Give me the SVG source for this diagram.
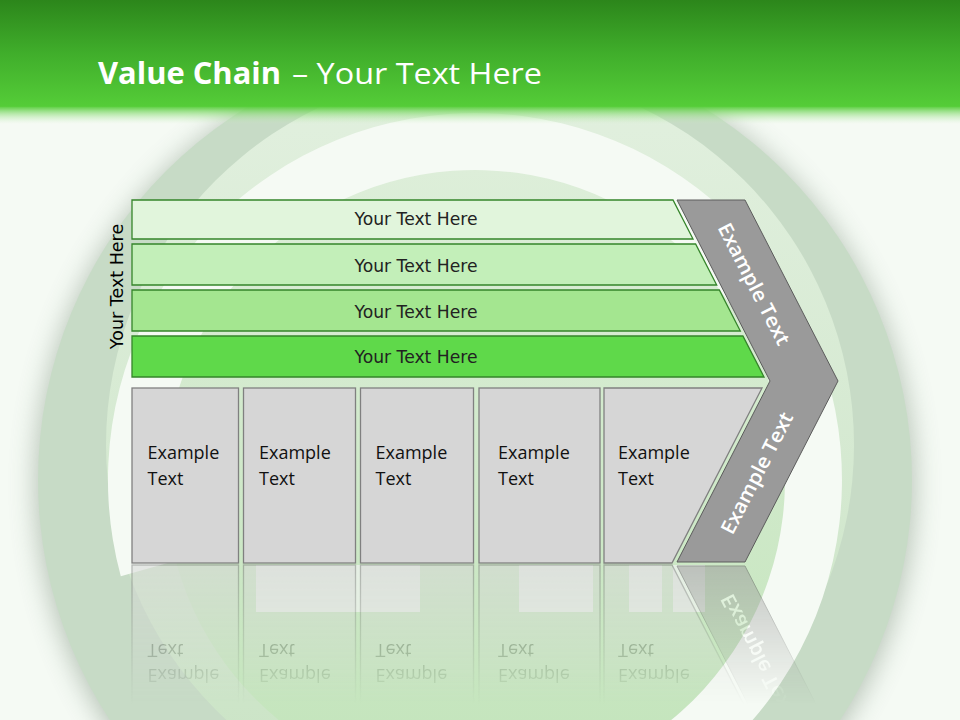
<svg xmlns="http://www.w3.org/2000/svg" xmlns:xlink="http://www.w3.org/1999/xlink" width="960" height="720" viewBox="0 0 960 720">
<defs>
  <linearGradient id="hdr" x1="0" y1="0" x2="0" y2="1">
    <stop offset="0" stop-color="#2c861b"/>
    <stop offset="0.5" stop-color="#40ae2b"/>
    <stop offset="1" stop-color="#55cd38"/>
  </linearGradient>
  <linearGradient id="hdrFade" x1="0" y1="0" x2="0" y2="1">
    <stop offset="0" stop-color="#55cd38" stop-opacity="1"/>
    <stop offset="1" stop-color="#c8eebd" stop-opacity="0"/>
  </linearGradient>
  <linearGradient id="holeG" x1="0" y1="0" x2="0" y2="1">
    <stop offset="0" stop-color="#e2f0df"/>
    <stop offset="1" stop-color="#c9e3c4"/>
  </linearGradient>
  <linearGradient id="innerG" x1="0" y1="0" x2="0" y2="1">
    <stop offset="0" stop-color="#ddeed9"/>
    <stop offset="1" stop-color="#c2e4ba"/>
  </linearGradient>
  <filter id="blur" x="-20%" y="-20%" width="140%" height="140%">
    <feGaussianBlur stdDeviation="13"/>
  </filter>
  <linearGradient id="fade" gradientUnits="userSpaceOnUse" x1="0" y1="564" x2="0" y2="705">
    <stop offset="0" stop-color="#ffffff" stop-opacity="0.55"/>
    <stop offset="1" stop-color="#ffffff" stop-opacity="0"/>
  </linearGradient>
  <mask id="reflMask" maskUnits="userSpaceOnUse" x="0" y="564" width="960" height="156">
    <rect x="0" y="564" width="960" height="156" fill="url(#fade)"/>
  </mask>
</defs>
<style>
  .bar{stroke:#35852a;stroke-width:1.3}
  .bartxt{font-family:"DejaVu Sans",Verdana,sans-serif;font-size:17.2px;fill:#222222;text-anchor:middle}
  .box{fill:#d6d6d6;stroke:#808080;stroke-width:1.3}
  .boxtxt{font-family:"Open Sans","Liberation Sans",sans-serif;font-size:18px;fill:#111111}
  .chev{fill:#9a9a9a;stroke:#5c5c5c;stroke-width:1}
  .chevtxt{font-family:"Open Sans","Liberation Sans",sans-serif;font-weight:600;font-size:20px;fill:#ffffff;text-anchor:middle}
  .refl{fill:#eef1ee;opacity:0.75}
</style>

<!-- background -->
<rect x="0" y="0" width="960" height="720" fill="#f5faf4"/>
<circle cx="475" cy="484" r="440" fill="#6f856f" opacity="0.45" filter="url(#blur)"/>
<circle cx="475" cy="480" r="437" fill="#c7dbc6"/>
<circle cx="480" cy="445" r="374" fill="url(#holeG)"/>
<circle cx="475" cy="480" r="310" fill="url(#innerG)"/>
<path d="M120.8 576.2 A367 367 0 1 1 475 847 L475 790 A310 310 0 1 0 175.7 560.7 Z" fill="#f5faf4"/>

<!-- header -->
<rect x="0" y="0" width="960" height="107" fill="url(#hdr)"/>
<rect x="0" y="106" width="960" height="18" fill="url(#hdrFade)"/>
<text x="98" y="84" font-family="'Open Sans','Liberation Sans',sans-serif" font-size="30" fill="#ffffff"><tspan font-weight="bold" textLength="183" lengthAdjust="spacingAndGlyphs">Value Chain</tspan><tspan x="292" textLength="250" lengthAdjust="spacingAndGlyphs">– Your Text Here</tspan></text>

<!-- reflection backdrop shapes -->
<g id="reflection-backdrop">
  <rect class="refl" x="256" y="565" width="164" height="47"/>
  <rect class="refl" x="519" y="565" width="74" height="47"/>
  <rect class="refl" x="629" y="565" width="33" height="47"/>
  <rect class="refl" x="673" y="565" width="32" height="47"/>
</g>

<!-- reflection -->
<g id="reflection" mask="url(#reflMask)">
  <g transform="matrix(1 0 0 -1 0 1128)">
    <use xlink:href="#box1" href="#box1"/>
    <use xlink:href="#box2" href="#box2"/>
    <use xlink:href="#box3" href="#box3"/>
    <use xlink:href="#box4" href="#box4"/>
    <use xlink:href="#box5" href="#box5"/>
    <use xlink:href="#chevron" href="#chevron"/>
  </g>
</g>

<g id="connectors"/>

<!-- bars -->
<g id="bar1">
  <path class="bar" d="M132 200 H673 L693 239 H132 Z" fill="#e1f5dc"/>
  <text class="bartxt" x="416" y="224.5">Your Text Here</text>
</g>
<g id="bar2">
  <path class="bar" d="M132 244 H695.6 L716.7 285 H132 Z" fill="#c3efb9"/>
  <text class="bartxt" x="416" y="272">Your Text Here</text>
</g>
<g id="bar3">
  <path class="bar" d="M132 290 H719.3 L740.3 331 H132 Z" fill="#a4e690"/>
  <text class="bartxt" x="416" y="317.5">Your Text Here</text>
</g>
<g id="bar4">
  <path class="bar" d="M132 336 H742.9 L764 377 H132 Z" fill="#5fd94a"/>
  <text class="bartxt" x="416" y="362.5">Your Text Here</text>
</g>

<g id="side-label">
  <text class="bartxt" style="fill:#000000;font-size:17.5px" transform="translate(122.5 286.5) rotate(-90)" x="0" y="0">Your Text Here</text>
</g>

<!-- boxes -->
<g id="box1">
  <rect class="box" x="132" y="388" width="106.5" height="175"/>
  <text class="boxtxt" x="147.5" y="459">Example</text>
  <text class="boxtxt" x="147.5" y="484.5">Text</text>
</g>
<g id="box2">
  <rect class="box" x="243.5" y="388" width="112" height="175"/>
  <text class="boxtxt" x="259" y="459">Example</text>
  <text class="boxtxt" x="259" y="484.5">Text</text>
</g>
<g id="box3">
  <rect class="box" x="360.5" y="388" width="113" height="175"/>
  <text class="boxtxt" x="375.5" y="459">Example</text>
  <text class="boxtxt" x="375.5" y="484.5">Text</text>
</g>
<g id="box4">
  <rect class="box" x="479" y="388" width="121" height="175"/>
  <text class="boxtxt" x="498" y="459">Example</text>
  <text class="boxtxt" x="498" y="484.5">Text</text>
</g>
<g id="box5">
  <path class="box" d="M604 388 H762 L672 563 H604 Z"/>
  <text class="boxtxt" x="618" y="459">Example</text>
  <text class="boxtxt" x="618" y="484.5">Text</text>
</g>

<!-- chevron -->
<g id="chevron">
  <path class="chev" d="M677 200 H745 L838 381 L745 562 H677 L770 381 Z"/>
  <text class="chevtxt" transform="translate(754 284) rotate(62.8)" y="7" textLength="134" lengthAdjust="spacingAndGlyphs">Example Text</text>
  <text class="chevtxt" transform="translate(757 473) rotate(-62.8)" y="7" textLength="134" lengthAdjust="spacingAndGlyphs">Example Text</text>
</g>
</svg>
